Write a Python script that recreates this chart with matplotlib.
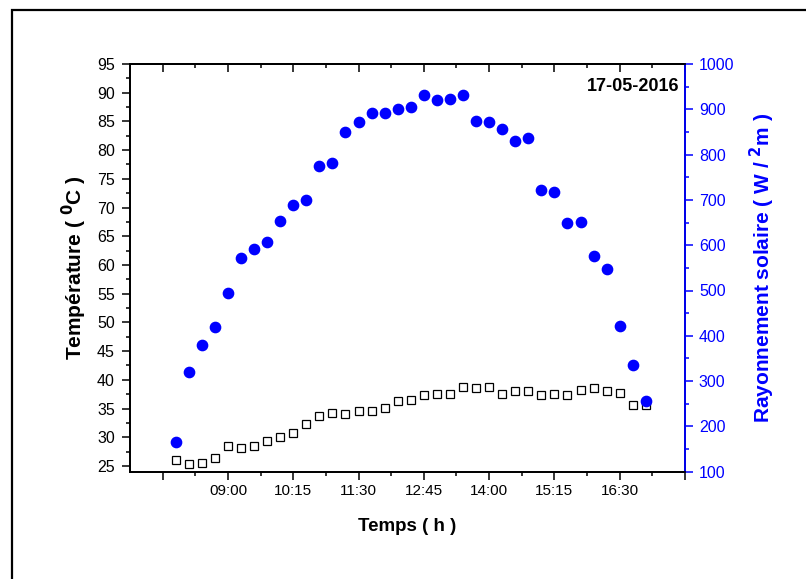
import numpy as np
import matplotlib.pyplot as plt
from matplotlib.patches import Rectangle

plt.rcParams['font.family'] = ['Liberation Sans', 'DejaVu Sans']

# time of each measurement, minutes after midnight (08:00 -> 17:00 every 15 min)
time_labels = ['08:00', '08:15', '08:30', '08:45', '09:00', '09:15', '09:30', '09:45',
               '10:00', '10:15', '10:30', '10:45', '11:00', '11:15', '11:30', '11:45',
               '12:00', '12:15', '12:30', '12:45', '13:00', '13:15', '13:30', '13:45',
               '14:00', '14:15', '14:30', '14:45', '15:00', '15:15', '15:30', '15:45',
               '16:00', '16:15', '16:30', '16:45', '17:00']
minutes = [int(s[:2]) * 60 + int(s[3:]) for s in time_labels]

temperature = [26.0, 25.3, 25.5, 26.3, 28.4, 28.1, 28.4, 29.4, 30.1, 30.8,
               32.3, 33.7, 34.3, 34.1, 34.5, 34.5, 35.1, 36.3, 36.5, 37.3,
               37.5, 37.5, 38.7, 38.5, 38.8, 37.6, 38.0, 38.0, 37.4, 37.5,
               37.3, 38.3, 38.6, 38.1, 37.7, 35.6, 35.6]

radiation = [166, 319, 379, 419, 494, 571, 591, 608, 654, 689,
             700, 775, 781, 850, 873, 891, 891, 900, 904, 931,
             920, 923, 932, 874, 871, 857, 831, 837, 722, 717,
             648, 651, 576, 548, 422, 336, 255]

tick_minutes = [465, 540, 615, 690, 765, 840, 915, 990, 1065]
tick_text = ['', '09:00', '10:15', '11:30', '12:45', '14:00', '15:15', '16:30', '']

fig = plt.figure(figsize=(8.06, 5.79), dpi=100)
ax = fig.add_axes([130 / 806, 1 - 471.7 / 579, 555 / 806, 407.7 / 579])
ax2 = ax.twinx()

ax.plot(minutes, temperature, linestyle='none', marker='s', markersize=6.2,
        markerfacecolor='white', markeredgecolor='black', markeredgewidth=0.9)
ax2.plot(minutes, radiation, linestyle='none', marker='o', markersize=7.4,
         color='blue')

ax.set_xlim(427.5, 1065)
ax.set_ylim(24, 95)
ax2.set_ylim(100, 1000)

ax.set_xticks(tick_minutes)
ax.set_xticklabels(tick_text)
ax.set_xticks([t + 37.5 for t in tick_minutes[:-1]], minor=True)
ax.set_yticks(np.arange(25, 96, 5))
ax.set_yticks(np.arange(27.5, 95, 5), minor=True)
ax2.set_yticks(np.arange(100, 1001, 100))
ax2.set_yticks(np.arange(150, 1000, 100), minor=True)

for sp in ax.spines.values():
    sp.set_linewidth(1.3)
for sp in ax2.spines.values():
    sp.set_linewidth(1.3)
ax2.spines['right'].set_color('blue')

ax.tick_params(axis='x', which='both', direction='out', labelsize=11, pad=3)
ax.tick_params(axis='x', which='major', length=6, width=1.1)
ax.tick_params(axis='x', which='minor', length=3, width=1.1)
ax.tick_params(axis='y', which='major', direction='out', length=6, width=1.1,
               labelsize=11.5, pad=5)
ax.tick_params(axis='y', which='minor', direction='out', length=3, width=1.1)
ax2.tick_params(axis='y', which='major', direction='out', length=6, width=1.1,
                colors='blue', labelsize=11.5, pad=4)
ax2.tick_params(axis='y', which='minor', direction='out', length=3, width=1.1,
                colors='blue')

# ticks on top axis point inward
top = ax.secondary_xaxis('top')
top.set_xticks(tick_minutes)
top.set_xticks([t + 37.5 for t in tick_minutes[:-1]], minor=True)
top.tick_params(axis='x', which='both', direction='in', labeltop=False, width=1.1)
top.tick_params(axis='x', which='major', length=6)
top.tick_params(axis='x', which='minor', length=3)
top.spines['top'].set_linewidth(1.3)

ax.set_xlabel('Temps ( h )', fontsize=13.5, fontweight='bold', labelpad=14)
ax.set_ylabel('Température ( $\\mathbf{^0}$C )', fontsize=15, fontweight='bold', labelpad=6)
ax2.set_ylabel('Rayonnement solaire ( W / $\\mathbf{^2}$m )', fontsize=15,
               fontweight='bold', color='blue', labelpad=10)

ax.text(0.99, 0.945, '17-05-2016', transform=ax.transAxes, ha='right', va='center',
        fontsize=13, fontweight='bold')

# outer frame (cut by the image edge on right and bottom)
fig.patches.append(Rectangle((12 / 806, -0.1), 1.2, 1 - 10 / 579 + 0.1,
                             transform=fig.transFigure, fill=False,
                             edgecolor='black', linewidth=1.6))

fig.savefig('out.png', dpi=100)
